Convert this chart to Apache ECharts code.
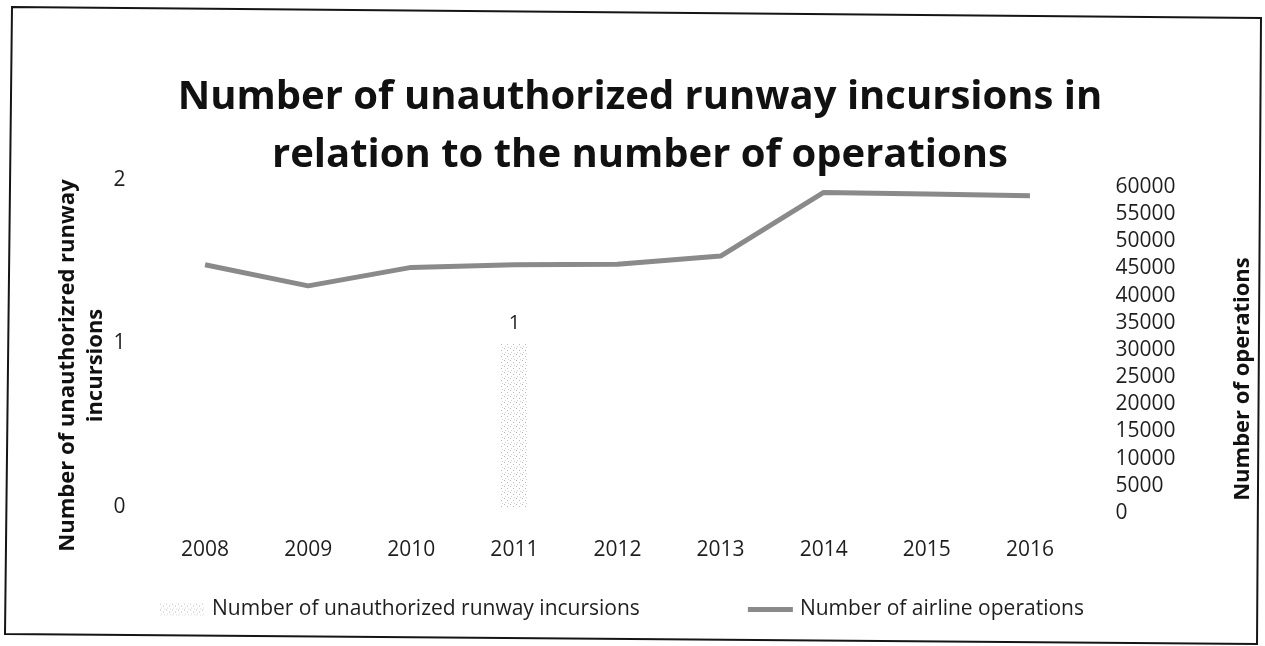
<!DOCTYPE html>
<html>
<head>
<meta charset="utf-8">
<script src="https://cdn.jsdelivr.net/npm/echarts@6/dist/echarts.min.js"></script>
<style>
  html, body { margin: 0; padding: 0; background: #ffffff; }
  #chart { width: 1265px; height: 646px; }
</style>
</head>
<body>
<div id="chart"></div>
<script>
// Years on the category axis
const years = ['2008', '2009', '2010', '2011', '2012', '2013', '2014', '2015', '2016'];
// Unauthorized runway incursions per year (left axis)
const incursions = [0, 0, 0, 1, 0, 0, 0, 0, 0];
// Airline operations per year (right axis)
const operations = [45700, 41800, 45200, 45700, 45800, 47300, 59000, 58700, 58400];

const FONT = '"Open Sans", "Noto Sans", sans-serif';
const INK = '#1e1e1e';
const LINE_GREY = '#8a8a8a';

// Sparse grey stipple used as the bar fill
function stipple() {
  const c = document.createElement('canvas');
  c.width = 6; c.height = 6;
  const g = c.getContext('2d');
  g.fillStyle = '#ffffff';
  g.fillRect(0, 0, 6, 6);
  g.fillStyle = '#b8b8b8';
  g.fillRect(0, 0, 1, 1);
  g.fillRect(3, 2, 1, 1);
  g.fillStyle = '#d4d4d4';
  g.fillRect(1, 4, 1, 1);
  g.fillRect(4, 5, 1, 1);
  return c;
}
const barFill = { image: stipple(), repeat: 'repeat' };

const barData = incursions.map(v => ({
  value: v,
  label: { show: v > 0 }
}));

const PLOT_LEFT = 153.5;
const PLOT_RIGHT = 1265 - 1081.5;

const chart = echarts.init(document.getElementById('chart'), null, { renderer: 'canvas' });

chart.setOption({
  backgroundColor: '#ffffff',
  animation: false,
  title: {
    text: 'Number of unauthorized runway incursions in\nrelation to the number of operations',
    left: 635,
    textAlign: 'center',
    top: 64,
    textStyle: {
      fontFamily: FONT,
      fontWeight: 'bold',
      fontSize: 40,
      lineHeight: 58,
      color: '#111111'
    }
  },
  legend: {
    left: 155,
    top: 594,
    itemWidth: 45,
    itemHeight: 12,
    itemGap: 108,
    symbolKeepAspect: true,
    textStyle: { fontFamily: FONT, fontSize: 21, color: INK, padding: [0, 0, 0, 2] },
    data: [
      { name: 'Number of unauthorized runway incursions', icon: 'rect' },
      {
        name: 'Number of airline operations',
        // flat stroke swatch for the line series
        icon: 'path://M0,0H45V5H0Z',
        itemStyle: { color: LINE_GREY }
      }
    ]
  },
  // Incursion bars on the left scale, operations line on the right scale
  grid: [
    { left: PLOT_LEFT, right: PLOT_RIGHT, top: 180, bottom: 646 - 507 },
    { left: PLOT_LEFT, right: PLOT_RIGHT, top: 187, bottom: 646 - 513 }
  ],
  xAxis: [
    {
      type: 'category',
      gridIndex: 0,
      data: years,
      axisLine: { show: false },
      axisTick: { show: false },
      axisLabel: { fontFamily: FONT, fontSize: 21, color: INK, margin: 33 }
    },
    {
      type: 'category',
      gridIndex: 1,
      data: years,
      show: false
    }
  ],
  yAxis: [
    {
      type: 'value',
      gridIndex: 0,
      min: 0,
      max: 2,
      interval: 1,
      position: 'left',
      name: 'Number of unauthorizred runway\nincursions',
      nameLocation: 'middle',
      nameRotate: 90,
      nameGap: 44,
      nameMoveOverlap: false,
      nameTextStyle: {
        fontFamily: FONT,
        fontWeight: 'bold',
        fontSize: 22,
        lineHeight: 28,
        color: '#111111',
        padding: [0, 44, 0, 0]
      },
      splitLine: { show: false },
      axisLine: { show: false },
      axisTick: { show: false },
      axisLabel: { fontFamily: FONT, fontSize: 21, color: INK, margin: 28 }
    },
    {
      type: 'value',
      gridIndex: 1,
      min: 0,
      max: 60000,
      interval: 5000,
      position: 'right',
      name: 'Number of operations',
      nameLocation: 'middle',
      nameRotate: 90,
      nameGap: 150,
      nameMoveOverlap: false,
      nameTextStyle: {
        fontFamily: FONT,
        fontWeight: 'bold',
        fontSize: 22,
        color: '#111111',
        padding: [0, 58, 0, 0]
      },
      splitLine: { show: false },
      axisLine: { show: false },
      axisTick: { show: false },
      axisLabel: {
        fontFamily: FONT,
        fontSize: 21,
        color: INK,
        margin: 34,
        formatter: v => String(v)
      }
    }
  ],
  series: [
    {
      name: 'Number of unauthorized runway incursions',
      type: 'bar',
      xAxisIndex: 0,
      yAxisIndex: 0,
      barWidth: 27,
      data: barData,
      itemStyle: { color: barFill },
      label: {
        position: 'top',
        distance: 10,
        fontFamily: FONT,
        fontSize: 20,
        color: INK
      }
    },
    {
      name: 'Number of airline operations',
      type: 'line',
      xAxisIndex: 1,
      yAxisIndex: 1,
      data: operations,
      showSymbol: false,
      symbol: 'none',
      lineStyle: { color: LINE_GREY, width: 5 },
      itemStyle: { color: LINE_GREY }
    }
  ],
  graphic: [
    {
      type: 'polygon',
      silent: true,
      shape: { points: [[12, 7], [1261, 18], [1257, 644], [5, 634]] },
      style: { fill: 'none', stroke: '#151515', lineWidth: 2 }
    }
  ]
});
</script>
</body>
</html>
